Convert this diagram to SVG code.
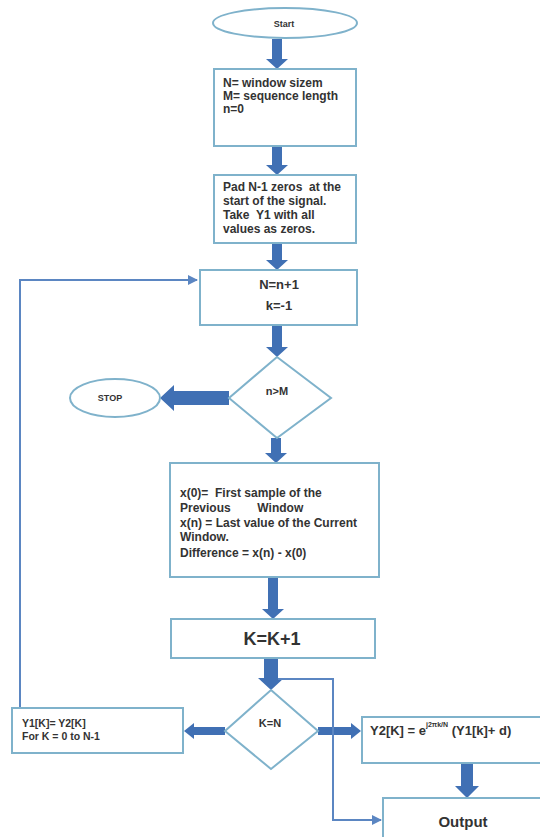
<svg xmlns="http://www.w3.org/2000/svg" width="540" height="837" viewBox="0 0 540 837">
<style>
.box{fill:#fff;stroke:#7fb2cb;stroke-width:2}
.fat{fill:#4070b4}
.thin{fill:none;stroke:#5b86c2;stroke-width:2}
text{font-family:"Liberation Sans",Arial,sans-serif;font-weight:bold;fill:#333}
.c{text-anchor:middle}
</style>
<defs>
<marker id="ah" viewBox="0 0 10 10" refX="9" refY="5" markerWidth="5" markerHeight="5" orient="auto">
<path d="M0,0 L10,5 L0,10 z" fill="#5b86c2"/>
</marker>
</defs>
<rect width="540" height="837" fill="#fff"/>
<g id="connectors">
<polygon class="fat" points="272,39 282,39 282,59 288,59 277,69 266,59 272,59"/>
<polygon class="fat" points="272,146 282,146 282,165 288,165 277,175 266,165 272,165"/>
<polygon class="fat" points="272,243 282,243 282,260 288,260 277,270 266,260 272,260"/>
<polygon class="fat" points="272,325 282,325 282,347 288,347 277,357 266,347 272,347"/>
<polygon class="fat" points="271,438 281,438 281,453 287,453 276,463 265,453 271,453"/>
<polygon class="fat" points="268,577 278,577 278,609 284,609 273,619 262,609 268,609"/>
<polygon class="fat" points="264,658 278,658 278,678 284,678 271,690 258,678 264,678"/>
<polygon class="fat" points="461,763 473,763 473,786 479,786 467,798 455,786 461,786"/>
<polygon class="fat" points="229,391 174,391 174,385 160,398 174,411 174,405 229,405"/>
<polygon class="fat" points="225,727 194,727 194,723 184,731 194,739 194,735 225,735"/>
<polygon class="fat" points="318,727 351,727 351,723 361,731 351,739 351,735 318,735"/>
<polyline class="thin" points="20,708 20,280 197,280" marker-end="url(#ah)"/>
<polyline class="thin" points="278,679 333,679 333,820 381,820" marker-end="url(#ah)"/>
</g>
<g id="start">
<ellipse class="box" cx="285" cy="23" rx="72" ry="15"/>
<text class="c" x="284" y="27" font-size="9">Start</text>
</g>
<g id="init">
<rect class="box" x="214" y="69" width="142" height="77"/>
<text x="223" y="87" font-size="12">N= window sizem</text>
<text x="223" y="100" font-size="12">M= sequence length</text>
<text x="223" y="113" font-size="12">n=0</text>
</g>
<g id="pad">
<rect class="box" x="214" y="175" width="142" height="68"/>
<text x="223" y="191" font-size="12" xml:space="preserve">Pad N-1 zeros  at the</text>
<text x="223" y="205" font-size="12">start of the signal.</text>
<text x="223" y="219" font-size="12" xml:space="preserve">Take  Y1 with all</text>
<text x="223" y="233" font-size="12">values as zeros.</text>
</g>
<g id="incn">
<rect class="box" x="200" y="270" width="157" height="55"/>
<text class="c" x="279" y="289" font-size="13">N=n+1</text>
<text class="c" x="279" y="310" font-size="13">k=-1</text>
</g>
<g id="cond1">
<polygon class="box" points="277,357 331,398 277,438 229,398"/>
<text class="c" x="277" y="395" font-size="11">n&gt;M</text>
</g>
<g id="stop">
<ellipse class="box" cx="115" cy="398" rx="45" ry="19"/>
<text class="c" x="110" y="401" font-size="9">STOP</text>
</g>
<g id="diff">
<rect class="box" x="170" y="463" width="209" height="114"/>
<text x="180" y="497" font-size="12" xml:space="preserve">x(0)=  First sample of the</text>
<text x="180" y="512" font-size="12" xml:space="preserve">Previous        Window</text>
<text x="180" y="527" font-size="12">x(n) = Last value of the Current</text>
<text x="180" y="541" font-size="12">Window.</text>
<text x="180" y="557" font-size="12">Difference = x(n) - x(0)</text>
</g>
<g id="inck">
<rect class="box" x="171" y="619" width="204" height="39"/>
<text class="c" x="272" y="645" font-size="18">K=K+1</text>
</g>
<g id="cond2">
<polygon class="box" points="271,690 318,731 271,769 225,731"/>
<text class="c" x="270" y="727" font-size="11">K=N</text>
</g>
<g id="copy">
<rect class="box" x="12" y="708" width="171" height="45"/>
<text x="22" y="727" font-size="10.5">Y1[K]= Y2[K]</text>
<text x="22" y="740" font-size="10.5">For K = 0 to N-1</text>
</g>
<g id="compute">
<rect class="box" x="362" y="717" width="200" height="46"/>
<text x="370" y="735" font-size="13">Y2[K] = e<tspan font-size="7" dy="-8">j2πk/N</tspan><tspan dy="8"> (Y1[k]+ d)</tspan></text>
</g>
<g id="output">
<rect class="box" x="383" y="798" width="180" height="50"/>
<text class="c" x="463" y="827" font-size="15">Output</text>
</g>
</svg>
